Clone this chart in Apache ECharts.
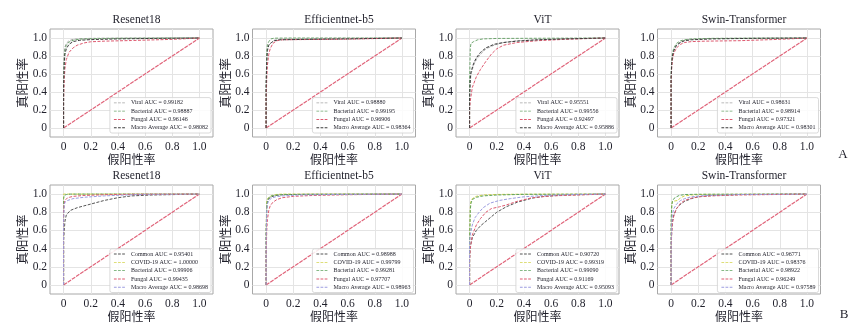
<!DOCTYPE html>
<html><head><meta charset="utf-8">
<script src="https://cdn.jsdelivr.net/npm/echarts@6/dist/echarts.min.js"></script>
<style>html,body{margin:0;padding:0;background:#fff}#c{width:861px;height:332px}</style>
</head><body><div id="c"></div>
<script>
// ---------- data (FPR, TPR pairs) ----------
const tickValues = [0, 0.2, 0.4, 0.6, 0.8, 1.0];
const diagonal = [[0,0],[1,1]];
const titlesTop = ['Resenet18','Efficientnet-b5','ViT','Swin-Transformer'];
const titlesBottom = ['Resenet18','Efficientnet-b5','ViT','Swin-Transformer'];

// Row A
const aRes_viral = [[0,0],[0,0.55],[0.005,0.82],[0.01,0.9],[0.02,0.94],[0.04,0.97],[0.07,0.985],[0.12,0.993],[0.25,0.997],[0.5,0.999],[1,1]];
const aRes_bact  = [[0,0],[0,0.5],[0.005,0.78],[0.01,0.87],[0.02,0.92],[0.04,0.955],[0.07,0.975],[0.12,0.988],[0.25,0.994],[0.5,0.998],[1,1]];
const aRes_fung  = [[0,0],[0,0.3],[0.005,0.55],[0.01,0.66],[0.02,0.76],[0.04,0.84],[0.07,0.89],[0.1,0.92],[0.15,0.945],[0.2,0.958],[0.3,0.965],[0.5,0.972],[0.8,0.985],[1,1]];
const aRes_macro = [[0,0],[0,0.45],[0.005,0.72],[0.01,0.82],[0.02,0.88],[0.04,0.93],[0.07,0.96],[0.12,0.975],[0.2,0.982],[0.4,0.99],[0.7,0.996],[1,1]];

const aEff_viral = [[0,0],[0,0.45],[0.005,0.8],[0.01,0.9],[0.02,0.93],[0.04,0.95],[0.06,0.975],[0.1,0.985],[0.2,0.99],[0.5,0.995],[1,1]];
const aEff_bact  = [[0,0],[0,0.4],[0.005,0.85],[0.01,0.93],[0.02,0.96],[0.035,0.99],[0.06,0.998],[0.2,1],[1,1]];
const aEff_fung  = [[0,0],[0,0.3],[0.005,0.55],[0.01,0.7],[0.02,0.82],[0.03,0.88],[0.05,0.94],[0.08,0.97],[0.12,0.98],[0.3,0.983],[0.6,0.987],[1,1]];
const aEff_macro = [[0,0],[0,0.45],[0.005,0.75],[0.01,0.86],[0.02,0.92],[0.04,0.95],[0.06,0.97],[0.1,0.98],[0.3,0.985],[0.6,0.99],[1,1]];

const aVit_viral = [[0,0],[0,0.3],[0.005,0.5],[0.01,0.6],[0.03,0.7],[0.05,0.76],[0.08,0.82],[0.12,0.88],[0.18,0.92],[0.25,0.95],[0.35,0.97],[0.5,0.98],[0.7,0.99],[1,1]];
const aVit_bact  = [[0,0],[0,0.5],[0.005,0.88],[0.01,0.94],[0.03,0.96],[0.06,0.98],[0.1,0.99],[0.2,0.995],[1,1]];
const aVit_fung  = [[0,0],[0,0.2],[0.005,0.3],[0.02,0.45],[0.05,0.57],[0.08,0.65],[0.12,0.74],[0.16,0.82],[0.2,0.88],[0.25,0.92],[0.35,0.95],[0.5,0.97],[0.7,0.985],[1,1]];
const aVit_macro = [[0,0],[0,0.35],[0.005,0.55],[0.01,0.62],[0.03,0.72],[0.05,0.78],[0.08,0.84],[0.12,0.89],[0.18,0.93],[0.25,0.95],[0.35,0.965],[0.5,0.98],[0.7,0.99],[1,1]];

const aSwin_viral = [[0,0],[0,0.55],[0.005,0.72],[0.01,0.8],[0.02,0.86],[0.04,0.92],[0.07,0.96],[0.1,0.975],[0.15,0.985],[0.25,0.992],[0.5,0.997],[1,1]];
const aSwin_bact  = [[0,0],[0,0.6],[0.005,0.75],[0.01,0.83],[0.02,0.89],[0.04,0.94],[0.07,0.97],[0.1,0.98],[0.15,0.99],[0.3,0.996],[1,1]];
const aSwin_fung  = [[0,0],[0,0.5],[0.005,0.68],[0.01,0.76],[0.02,0.83],[0.04,0.89],[0.07,0.93],[0.1,0.95],[0.15,0.96],[0.25,0.965],[0.5,0.97],[0.8,0.985],[1,1]];
const aSwin_macro = [[0,0],[0,0.55],[0.005,0.72],[0.01,0.8],[0.02,0.86],[0.04,0.92],[0.07,0.95],[0.1,0.97],[0.15,0.98],[0.3,0.99],[0.6,0.996],[1,1]];

// Row B
const bRes_common = [[0,0],[0,0.5],[0.005,0.6],[0.01,0.7],[0.02,0.77],[0.05,0.82],[0.1,0.85],[0.2,0.89],[0.3,0.93],[0.4,0.96],[0.5,0.98],[0.65,0.99],[1,1]];
const bRes_covid  = [[0,0],[0,1],[1,1]];
const bRes_bact   = [[0,0],[0,0.95],[0.005,0.985],[0.02,0.995],[0.05,1],[1,1]];
const bRes_fung   = [[0,0],[0,0.8],[0.005,0.9],[0.01,0.93],[0.03,0.96],[0.07,0.975],[0.15,0.985],[0.3,0.993],[0.5,0.998],[1,1]];
const bRes_macro  = [[0,0],[0,0.7],[0.005,0.88],[0.01,0.91],[0.03,0.93],[0.07,0.95],[0.15,0.965],[0.3,0.98],[0.45,0.99],[0.6,0.997],[1,1]];

const bEff_common = [[0,0],[0,0.5],[0.005,0.85],[0.01,0.92],[0.02,0.95],[0.04,0.97],[0.07,0.985],[0.12,0.993],[0.3,0.998],[1,1]];
const bEff_covid  = [[0,0],[0,0.6],[0.005,0.92],[0.01,0.95],[0.02,0.97],[0.04,0.985],[0.07,0.995],[0.12,1],[1,1]];
const bEff_bact   = [[0,0],[0,0.55],[0.005,0.88],[0.01,0.93],[0.02,0.96],[0.04,0.98],[0.08,0.99],[0.15,0.996],[1,1]];
const bEff_fung   = [[0,0],[0,0.3],[0.005,0.6],[0.01,0.72],[0.02,0.82],[0.03,0.87],[0.05,0.91],[0.08,0.94],[0.12,0.96],[0.2,0.975],[0.35,0.985],[0.6,0.993],[1,1]];
const bEff_macro  = [[0,0],[0,0.5],[0.005,0.82],[0.01,0.89],[0.02,0.93],[0.04,0.955],[0.07,0.97],[0.12,0.98],[0.25,0.99],[0.5,0.996],[1,1]];

const bVit_common = [[0,0],[0,0.3],[0.005,0.42],[0.02,0.52],[0.05,0.6],[0.08,0.65],[0.12,0.7],[0.16,0.75],[0.2,0.8],[0.27,0.86],[0.35,0.91],[0.46,0.955],[0.55,0.975],[0.7,0.99],[1,1]];
const bVit_covid  = [[0,0],[0,0.5],[0.005,0.85],[0.01,0.92],[0.02,0.95],[0.05,0.975],[0.1,0.99],[0.2,0.996],[0.4,0.999],[1,1]];
const bVit_bact   = [[0,0],[0,0.45],[0.005,0.82],[0.01,0.9],[0.02,0.94],[0.05,0.965],[0.1,0.98],[0.2,0.99],[0.4,0.997],[1,1]];
const bVit_fung   = [[0,0],[0,0.25],[0.005,0.4],[0.02,0.55],[0.05,0.66],[0.08,0.73],[0.12,0.8],[0.16,0.84],[0.22,0.86],[0.27,0.88],[0.35,0.92],[0.46,0.96],[0.6,0.98],[0.8,0.99],[1,1]];
const bVit_macro  = [[0,0],[0,0.45],[0.005,0.55],[0.02,0.66],[0.04,0.74],[0.07,0.8],[0.1,0.85],[0.15,0.9],[0.22,0.93],[0.3,0.95],[0.4,0.97],[0.55,0.985],[0.75,0.995],[1,1]];

const bSwin_common = [[0,0],[0,0.4],[0.005,0.6],[0.01,0.7],[0.02,0.77],[0.04,0.84],[0.07,0.89],[0.1,0.92],[0.15,0.95],[0.2,0.97],[0.3,0.985],[0.5,0.995],[1,1]];
const bSwin_covid  = [[0,0],[0,0.6],[0.005,0.88],[0.01,0.92],[0.03,0.925],[0.05,0.93],[0.07,0.96],[0.1,0.98],[0.15,0.99],[0.25,0.997],[1,1]];
const bSwin_bact   = [[0,0],[0,0.7],[0.005,0.88],[0.01,0.92],[0.02,0.95],[0.04,0.97],[0.06,0.985],[0.1,0.995],[0.2,0.998],[1,1]];
const bSwin_fung   = [[0,0],[0,0.4],[0.005,0.58],[0.01,0.68],[0.02,0.76],[0.04,0.84],[0.07,0.9],[0.1,0.93],[0.15,0.955],[0.2,0.97],[0.3,0.98],[0.5,0.99],[1,1]];
const bSwin_macro  = [[0,0],[0,0.5],[0.005,0.7],[0.01,0.78],[0.02,0.84],[0.04,0.89],[0.07,0.93],[0.1,0.95],[0.15,0.97],[0.25,0.985],[0.5,0.995],[1,1]];

const aucTop = [
  ['0.99182','0.98887','0.96146','0.98082'],
  ['0.98880','0.99195','0.96906','0.98364'],
  ['0.95551','0.99556','0.92497','0.95886'],
  ['0.98631','0.98914','0.97321','0.98301']
];
const aucBottom = [
  ['0.95401','1.00000','0.99906','0.99435','0.98698'],
  ['0.98988','0.99799','0.99281','0.97707','0.98963'],
  ['0.90720','0.99319','0.99090','0.91169','0.95093'],
  ['0.96771','0.98376','0.98922','0.96249','0.97589']
];
const classesTop = ['Viral','Bacterial','Fungal','Macro Average'];
const classesBottom = ['Common','COVID-19','Bacterial','Fungal','Macro Average'];
const curvesTop = [
  [aRes_viral, aRes_bact, aRes_fung, aRes_macro],
  [aEff_viral, aEff_bact, aEff_fung, aEff_macro],
  [aVit_viral, aVit_bact, aVit_fung, aVit_macro],
  [aSwin_viral, aSwin_bact, aSwin_fung, aSwin_macro]
];
const curvesBottom = [
  [bRes_common, bRes_covid, bRes_bact, bRes_fung, bRes_macro],
  [bEff_common, bEff_covid, bEff_bact, bEff_fung, bEff_macro],
  [bVit_common, bVit_covid, bVit_bact, bVit_fung, bVit_macro],
  [bSwin_common, bSwin_covid, bSwin_bact, bSwin_fung, bSwin_macro]
];

// ---------- styles / layout ----------
const colorsTop = ['#a3a3a3','#6fa66f','#de5a70','#3e3e3e'];
const colorsBottom = ['#555555','#d4d44c','#5fa35f','#de5a70','#9c9ce0'];
const diagColor = '#e0647a';
const lefts = [50, 252.5, 456, 657.5];
const gridW = 163;
const rows = [
  {top: 29, h: 108, titleTop: 9, legendBottom: 199, nameGapX: 15},
  {top: 185, h: 109, titleTop: 165, legendBottom: 39.5, nameGapX: 15}
];
const serif = 'Liberation Serif';
const cjk = 'Noto Sans CJK SC';
const txt = '#1f1f2a';
const dashIcon = 'path://M0,0 L3,0 L3,1 L0,1 Z M4.5,0 L7.5,0 L7.5,1 L4.5,1 Z M9,0 L12,0 L12,1 L9,1 Z';

const option = {
  backgroundColor: '#fff',
  animation: false,
  title: [], grid: [], xAxis: [], yAxis: [], series: [], legend: []
};

function fmt(v){ return v === 0 ? '0' : v.toFixed(1); }

function addPanel(r, c, title, classes, aucs, curves, colors){
  const row = rows[r];
  const idx = option.grid.length;
  const left = lefts[c];
  option.grid.push({left: left, top: row.top, width: gridW, height: row.h,
    show: true, borderColor: '#a8a8a8', borderWidth: 1, backgroundColor: '#fff'});
  option.title.push({text: title, left: left + gridW/2, top: row.titleTop, textAlign: 'center',
    textStyle: {fontFamily: serif, fontSize: 11.5, fontWeight: 'normal', color: txt}});
  const axisCommon = {
    gridIndex: idx, type: 'value', min: -0.1, max: 1.1,
    axisLine: {show: false},
    axisTick: {show: false, customValues: tickValues},
    axisLabel: {customValues: tickValues, formatter: fmt, fontFamily: serif, fontSize: 11.5, color: txt},
    splitLine: {show: true, lineStyle: {color: '#e4e4e4', width: 1}},
    nameLocation: 'middle',
    nameTextStyle: {fontFamily: cjk, fontSize: 12, color: txt}
  };
  option.xAxis.push(Object.assign({}, axisCommon, {name: '假阳性率', nameGap: row.nameGapX,
    axisLabel: Object.assign({}, axisCommon.axisLabel, {margin: 4})}));
  option.yAxis.push(Object.assign({}, axisCommon, {name: '真阳性率', nameGap: 21,
    nameTextStyle: {fontFamily: cjk, fontSize: 12.5, color: txt},
    axisLabel: Object.assign({}, axisCommon.axisLabel, {margin: 3})}));
  const names = [];
  classes.forEach((cl, k) => {
    const nm = cl + ' AUC = ' + aucs[k];
    names.push(nm);
    option.series.push({type: 'line', name: nm, xAxisIndex: idx, yAxisIndex: idx,
      data: curves[k], symbol: 'none', silent: true, z: 3 + k,
      lineStyle: {color: colors[k], width: 1, type: [3, 1.5]},
      itemStyle: {color: colors[k]}});
  });
  option.series.push({type: 'line', name: 'diag' + idx, xAxisIndex: idx, yAxisIndex: idx,
    data: diagonal, symbol: 'none', silent: true, z: 2,
    lineStyle: {color: diagColor, width: 1.2, type: [4, 1]}});
  option.legend.push({data: names, orient: 'vertical', right: 861 - (left + gridW - 2),
    bottom: row.legendBottom, icon: dashIcon, itemWidth: 11, itemHeight: 1.2, itemGap: 1.8,
    padding: [2, 3, 2, 4], borderColor: '#d0d0d0', borderWidth: 0.8, borderRadius: 2,
    backgroundColor: 'rgba(255,255,255,0.85)', selectedMode: false,
    textStyle: {fontFamily: serif, fontSize: 6, lineHeight: 6.5, color: txt, padding: [0,0,0,1]}});
}

for (let c = 0; c < 4; c++) addPanel(0, c, titlesTop[c], classesTop, aucTop[c], curvesTop[c], colorsTop);
for (let c = 0; c < 4; c++) addPanel(1, c, titlesBottom[c], classesBottom, aucBottom[c], curvesBottom[c], colorsBottom);

option.title.push({text: 'A', left: 838, top: 143, textAlign: 'center',
  textStyle: {fontFamily: serif, fontSize: 13, fontWeight: 'normal', color: txt}});
option.title.push({text: 'B', left: 839, top: 303, textAlign: 'center',
  textStyle: {fontFamily: serif, fontSize: 13, fontWeight: 'normal', color: txt}});

const chart = echarts.init(document.getElementById('c'), null, {renderer: 'canvas'});
chart.setOption(option);
</script></body></html>
